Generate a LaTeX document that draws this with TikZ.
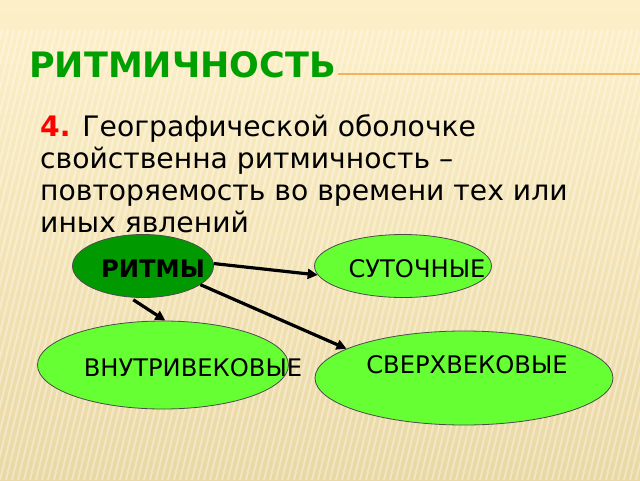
\documentclass[tikz,border=0pt]{standalone}
\usepackage{fontspec}
\setmainfont{DejaVu Sans}
\usetikzlibrary{shapes.geometric,arrows.meta}
\definecolor{bgtop}{HTML}{FDF0C9}
\definecolor{bgbot}{HTML}{EAD8A4}
\definecolor{titlegreen}{HTML}{00A000}
\definecolor{darkfill}{HTML}{009A00}
\definecolor{lightfill}{HTML}{66FF33}
\definecolor{ruleorange}{HTML}{F2B25E}
\tikzset{
  oval/.style={ellipse, draw=black!70, line width=0.8pt, inner sep=0pt},
  lbl/.style={anchor=base, inner sep=0pt, font=\fontsize{24.2}{24.2}\selectfont},
  bodyline/.style={anchor=base west, inner sep=0pt, font=\fontsize{28.2}{28.2}\selectfont},
  arr/.style={-{Triangle[length=10pt,width=10pt]}, line width=3.2pt, black}
}
\begin{document}
\begin{tikzpicture}[x=1pt,y=-1pt]
\useasboundingbox (0,0) rectangle (640,480);
% background
\shade[top color=bgtop, bottom color=bgbot] (0,0) rectangle (640,480);
\begin{scope}
\clip (0,30) rectangle (640,480);
\foreach \i in {-150,-144,...,640} {
  \draw[white, opacity=0.35, line width=2pt] (\i,480) -- (\i+110,30);
}
\end{scope}
% title
\node[anchor=base west, inner sep=0pt, text=titlegreen, font=\fontsize{35}{35}\selectfont\bfseries] (title) at (29,77) {РИТМИЧНОСТЬ};
\coordinate (ruleend) at (640,74);
\draw[ruleorange, line width=1.8pt] (title.base east |- ruleend) ++(2,0) coordinate (rulestart) -- (ruleend);
% body text
\node[bodyline] (l1) at (40,136) {\textcolor{red}{\bfseries 4.} Географической оболочке};
\node[bodyline] (l2) at (40,168) {свойственна ритмичность –};
\node[bodyline] (l3) at (40,200) {повторяемость во времени тех или};
\node[bodyline] (l4) at (40,232) {иных явлений};
% ellipses
\node[oval, fill=darkfill, minimum width=141pt, minimum height=63pt] (r) at (143,266) {};
\node[oval, fill=lightfill, minimum width=177pt, minimum height=63pt] (s) at (403,266) {};
\node[oval, fill=lightfill, minimum width=251pt, minimum height=88pt] (v) at (163,365) {};
\node[oval, fill=lightfill, minimum width=298pt, minimum height=94pt] (c) at (464,378) {};
% labels
\node[lbl, font=\fontsize{24.2}{24.2}\selectfont\bfseries] (rl) at (153,277) {РИТМЫ};
\node[lbl] (sl) at (417,277) {СУТОЧНЫЕ};
\node[lbl] (vl) at (193,376) {ВНУТРИВЕКОВЫЕ};
\node[lbl] (cl) at (467,373) {СВЕРХВЕКОВЫЕ};
% arrows
\draw[arr] (r.2) -- (s.186);
\draw[arr] ([xshift=-3pt,yshift=-2pt]r.258) -- (v.87);
\draw[arr] (r.-18) -- (c.166);
\end{tikzpicture}
\end{document}
